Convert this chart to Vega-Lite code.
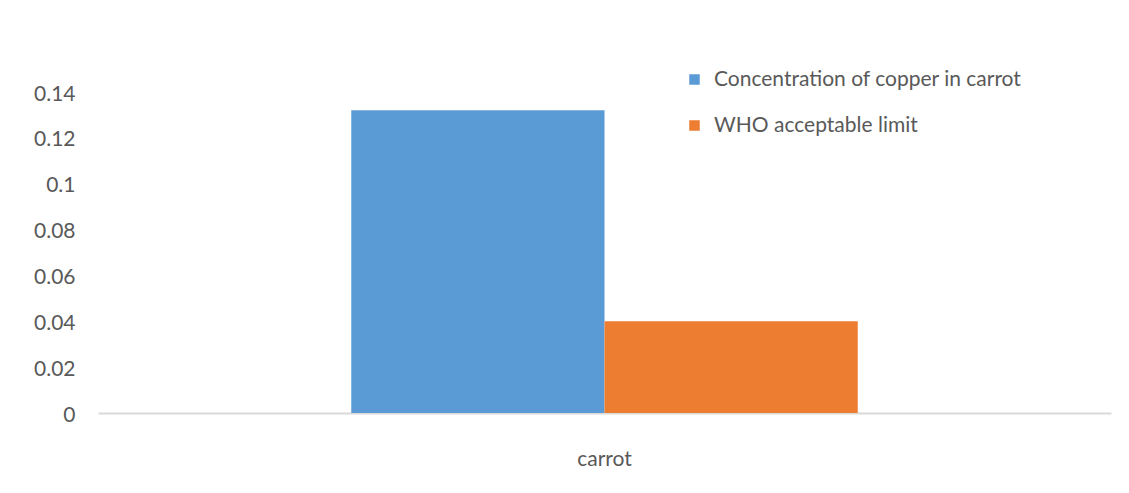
{
  "$schema": "https://vega.github.io/schema/vega-lite/v6.json",
  "autosize": {"type": "none"},
  "width": 1013,
  "height": 321,
  "padding": {"left": 98, "top": 92, "right": 18, "bottom": 80},
  "background": "white",
  "config": {
    "view": {"stroke": null},
    "font": "Lato",
    "axis": {"labelFont": "Lato", "labelColor": "#595959", "labelFontSize": 21},
    "legend": {"labelFont": "Lato", "labelColor": "#595959", "labelFontSize": 21, "labelLimit": 500}
  },
  "data": {
    "values": [
      {"vegetable": "carrot", "series": "Concentration of copper in  carrot", "value": 0.132},
      {"vegetable": "carrot", "series": "WHO acceptable limit", "value": 0.04}
    ]
  },
  "mark": {"type": "bar"},
  "encoding": {
    "x": {
      "field": "vegetable",
      "type": "nominal",
      "scale": {"paddingInner": 0, "paddingOuter": 0.5},
      "axis": {
        "title": null,
        "labelAngle": 0,
        "ticks": false,
        "domainColor": "#d9d9d9",
        "domainWidth": 2,
        "labelPadding": 35
      }
    },
    "xOffset": {
      "field": "series",
      "type": "nominal",
      "scale": {"paddingInner": 0, "paddingOuter": 0}
    },
    "y": {
      "field": "value",
      "type": "quantitative",
      "scale": {"domain": [0, 0.14], "nice": false},
      "axis": {
        "title": null,
        "values": [0, 0.02, 0.04, 0.06, 0.08, 0.1, 0.12, 0.14],
        "format": "~f",
        "domain": false,
        "ticks": false,
        "grid": false,
        "labelPadding": 23,
        "labelBaseline": "middle",
        "labelOffset": 2
      }
    },
    "color": {
      "field": "series",
      "type": "nominal",
      "scale": {"range": ["#5B9BD5", "#ED7D31"]},
      "legend": {
        "title": null,
        "orient": "none",
        "legendX": 586,
        "legendY": -23,
        "symbolType": "square",
        "symbolSize": 110,
        "symbolStrokeWidth": 0,
        "rowPadding": 24,
        "labelOffset": 9
      }
    }
  }
}
